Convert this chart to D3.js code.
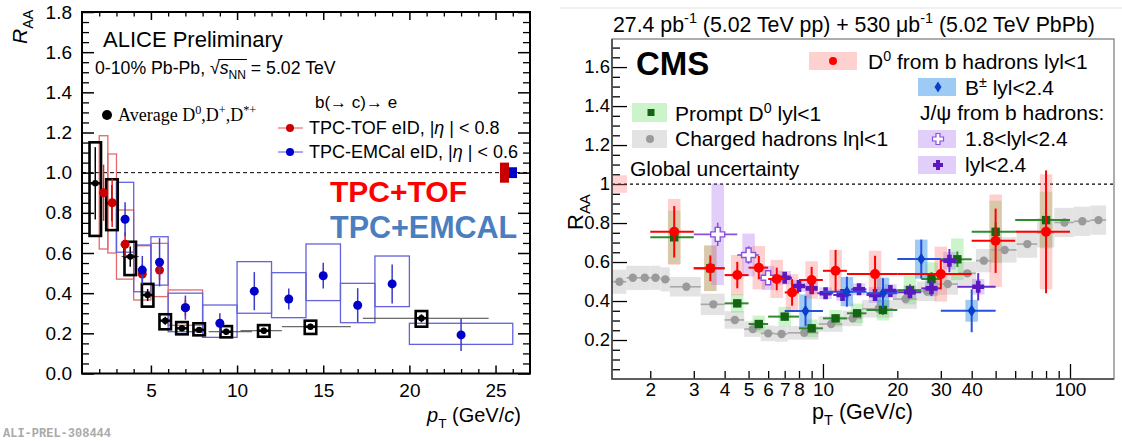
<!DOCTYPE html>
<html>
<head>
<meta charset="utf-8">
<script src="https://cdn.jsdelivr.net/npm/d3@7"></script>
<style>
body { margin: 0; background: #fff; }
svg { display: block; }
text { white-space: pre; }
</style>
</head>
<body>
<div id="display"></div>
<script>
// ---------- ALICE panel (left) ----------
const aliceXTicks = [5, 10, 15, 20, 25];
const aliceYTicks = [0, 0.2, 0.4, 0.6, 0.8, 1.0, 1.2, 1.4, 1.6, 1.8];

// average D0, D+, D*+
const avgPt = [1.77, 2.74, 3.8, 4.81, 5.83, 6.8, 7.8, 9.37, 11.55, 14.26, 20.7];
const avgVal = [0.947, 0.848, 0.582, 0.391, 0.263, 0.225, 0.217, 0.208, 0.213, 0.233, 0.275];
const avgStat = [0.18, 0.09, 0.05, 0.03, 0.02, 0.015, 0.015, 0.015, 0.015, 0.015, 0.02];
const avgSysHi = [1.151, 0.967, 0.656, 0.446, 0.295, 0.256, 0.25, 0.236, 0.241, 0.263, 0.311];
const avgSysLo = [0.685, 0.714, 0.49, 0.333, 0.22, 0.195, 0.19, 0.18, 0.183, 0.197, 0.233];
const avgXlo = [1.45, 2.4, 3.3, 4.4, 5.45, 6.45, 7.45, 8.35, 10.2, 12.6, 17.3];
const avgXhi = [2.1, 3.1, 4.3, 5.2, 6.2, 7.15, 8.15, 10.86, 12.6, 16.6, 24.6];

// b(->c)->e, TPC-TOF
const tofPt = [2.25, 2.75, 3.5, 4.5, 5.5, 7];
const tofLo = [2, 2.5, 3, 4, 5, 6];
const tofHi = [2.5, 3, 4, 5, 6, 8];
const tofVal = [0.90, 0.85, 0.643, 0.495, 0.515, 0.328];
const tofStat = [0.14, 0.12, 0.06, 0.05, 0.05, 0.04];
const tofSysHi = [1.184, 1.093, 0.814, 0.636, 0.648, 0.416];
const tofSysLo = [0.62, 0.60, 0.47, 0.366, 0.383, 0.24];

// b(->c)->e, TPC-EMCal
const emcPt = [3.5, 4.5, 5.5, 7, 9, 11, 13, 15, 17, 19, 23];
const emcLo = [3, 4, 5, 6, 8, 10, 12, 14, 16, 18, 20];
const emcHi = [4, 5, 6, 8, 10, 12, 14, 16, 18, 20, 26];
const emcVal = [0.768, 0.515, 0.554, 0.328, 0.25, 0.41, 0.371, 0.487, 0.34, 0.446, 0.192];
const emcStat = [0.085, 0.07, 0.12, 0.06, 0.05, 0.095, 0.052, 0.064, 0.085, 0.097, 0.08];
const emcSysHi = [0.952, 0.64, 0.681, 0.40, 0.341, 0.557, 0.502, 0.645, 0.449, 0.585, 0.25];
const emcSysLo = [0.604, 0.407, 0.44, 0.208, 0.18, 0.30, 0.278, 0.363, 0.253, 0.333, 0.145];

const aliceGlob = [0.05, 0.027]; // TOF, EMCal normalisation

// ---------- CMS panel (right) ----------
const cmsXTicks = [2, 3, 4, 5, 6, 7, 8, 10, 20, 30, 40, 100];
const cmsXMinor = [2, 3, 4, 5, 6, 7, 8, 9, 20, 30, 40, 50, 60, 70, 80, 90];
const cmsXMajor = [10, 100];
const cmsYTicks = [0.2, 0.4, 0.6, 0.8, 1.0, 1.2, 1.4, 1.6];

// charged hadrons
const chPt = [1.5, 1.7, 1.9, 2.1, 2.3, 2.8, 3.6, 4.4, 5.2, 6.0, 6.8, 8.4, 10.8, 13.2, 16.8, 21.6, 26.4, 32, 38.4, 44.8, 54.4, 67.2, 80, 95, 112.2, 130.4];
const chLo = [1.4, 1.6, 1.8, 2.0, 2.2, 2.4, 3.2, 4.0, 4.8, 5.6, 6.4, 7.2, 9.6, 12, 14.4, 19.2, 24, 28.8, 35.2, 41.6, 48, 60.8, 73.6, 86.4, 103.6, 120.8];
const chHi = [1.6, 1.8, 2.0, 2.2, 2.4, 3.2, 4.0, 4.8, 5.6, 6.4, 7.2, 9.6, 12, 14.4, 19.2, 24, 28.8, 35.2, 41.6, 48, 60.8, 73.6, 86.4, 103.6, 120.8, 140];
const chVal = [0.499, 0.519, 0.519, 0.519, 0.511, 0.473, 0.383, 0.303, 0.256, 0.234, 0.231, 0.237, 0.282, 0.311, 0.36, 0.41, 0.45, 0.487, 0.542, 0.607, 0.662, 0.692, 0.75, 0.803, 0.809, 0.815];
const chSys = [0.062, 0.062, 0.062, 0.062, 0.062, 0.05, 0.055, 0.045, 0.04, 0.04, 0.04, 0.035, 0.04, 0.04, 0.045, 0.05, 0.05, 0.055, 0.06, 0.06, 0.065, 0.07, 0.075, 0.075, 0.075, 0.075];

// prompt D0
const pdPt = [2.5, 3.5, 4.5, 5.5, 7, 9, 11.25, 13.75, 17.5, 22.5, 27.5, 35, 50, 80];
const pdLo = [2, 3, 4, 5, 6, 8, 10, 12.5, 15, 20, 25, 30, 40, 60];
const pdHi = [3, 4, 5, 6, 8, 10, 12.5, 15, 20, 25, 30, 40, 60, 100];
const pdVal = [0.727, 0.568, 0.388, 0.282, 0.32, 0.26, 0.311, 0.337, 0.354, 0.456, 0.513, 0.614, 0.755, 0.815];
const pdStat = [0.02, 0.025, 0.02, 0.02, 0.02, 0.02, 0.02, 0.02, 0.025, 0.03, 0.035, 0.04, 0.05, 0.06];
const pdSys = [0.137, 0.117, 0.047, 0.043, 0.05, 0.045, 0.043, 0.05, 0.054, 0.073, 0.085, 0.107, 0.16, 0.145];

// D0 from b hadrons
const bdPt = [2.5, 3.5, 4.5, 5.5, 6.5, 7.5, 9, 11.25, 16.25, 30, 50, 80];
const bdLo = [2, 3, 4, 5, 6, 7, 8, 10, 12.5, 20, 40, 60];
const bdHi = [3, 4, 5, 6, 7, 8, 10, 12.5, 20, 40, 60, 100];
const bdVal = [0.755, 0.568, 0.533, 0.571, 0.513, 0.444, 0.508, 0.555, 0.538, 0.538, 0.709, 0.755];
const bdStat = [0.132, 0.066, 0.068, 0.06, 0.058, 0.068, 0.067, 0.107, 0.094, 0.078, 0.165, 0.315];
const bdSys = [0.169, 0.117, 0.103, 0.111, 0.098, 0.094, 0.096, 0.108, 0.12, 0.141, 0.237, 0.295];

// B+-
const bpPt = [8.5, 12.5, 17.5, 25, 40];
const bpLo = [7, 10, 15, 20, 30];
const bpHi = [10, 15, 20, 30, 50];
const bpVal = [0.349, 0.448, 0.44, 0.615, 0.35];
const bpStat = [0.077, 0.077, 0.077, 0.1, 0.11];
const bpSys = [0.085, 0.075, 0.08, 0.1, 0.056];

// nonprompt J/psi 1.8<|y|<2.4
const jfPt = [3.75, 5, 6];
const jfLo = [3, 4.5, 5.5];
const jfHi = [4.5, 5.5, 6.5];
const jfVal = [0.742, 0.636, 0.519];
const jfStat = [0.06, 0.045, 0.03];
const jfSys = [0.26, 0.11, 0.062];

// nonprompt J/psi |y|<2.4
const jaPt = [7, 8, 9, 10.25, 12, 14, 16.25, 18.75, 22.5, 27.5, 32.5, 42.5];
const jaLo = [6.5, 7.5, 8.5, 9.5, 11, 13, 15, 17.5, 20, 25, 30, 35];
const jaHi = [7.5, 8.5, 9.5, 11, 13, 15, 17.5, 20, 25, 30, 35, 50];
const jaVal = [0.519, 0.477, 0.465, 0.44, 0.431, 0.46, 0.431, 0.451, 0.445, 0.465, 0.607, 0.473];
const jaStat = [0.02, 0.02, 0.02, 0.02, 0.02, 0.025, 0.03, 0.03, 0.03, 0.04, 0.06, 0.07];
const jaSys = [0.035, 0.03, 0.03, 0.03, 0.03, 0.03, 0.04, 0.035, 0.035, 0.04, 0.045, 0.04];

const cmsGlob = 0.045;

// ---------------------------------------------------------------
const SANS = '"Liberation Sans", Arial, sans-serif';
const svg = d3.select('#display')
    .append('svg')
    .attr('width', 1122)
    .attr('height', 441)
    .attr('font-family', SANS);

// text with sub/superscripts: parts are strings or [text, 'sup'|'sub'|'', 'i']
function rich(g, x, y, fs, parts) {
    const t = g.append('text').attr('x', x).attr('y', y).attr('font-size', fs);
    let off = 0;
    parts.forEach(p => {
        const [str, mode, style] = typeof p === 'string' ? [p, '', ''] : p;
        const target = mode === 'sup' ? -0.4 * fs : mode === 'sub' ? 0.3 * fs : 0;
        const ts = t.append('tspan').attr('dy', target - off).text(str);
        if (mode === 'sup' || mode === 'sub') ts.attr('font-size', fs * 0.68);
        if (style === 'i') ts.attr('font-style', 'italic');
        off = target;
    });
    return t;
}

function styleAxis(g, fs, width) {
    g.select('.domain').remove();
    g.selectAll('line').attr('stroke', '#000').attr('stroke-width', width);
    g.attr('font-size', fs).attr('font-family', SANS);
    g.selectAll('text').attr('fill', '#000');
}

// ======================= ALICE =======================
const xL = d3.scaleLinear().domain([1, 27]).range([82, 530]);
const yL = d3.scaleLinear().domain([0, 1.8]).range([373.5, 12]);
const gL = svg.append('g');

const xMinorL = d3.range(2, 27).filter(d => d % 5 !== 0);
const yMinorL = d3.range(0, 1.8001, 0.05).filter(d => Math.abs(d * 5 - Math.round(d * 5)) > 1e-6);

gL.append('g').attr('transform', `translate(0,${yL(0)})`)
    .call(d3.axisBottom(xL).tickValues(aliceXTicks).tickSize(-8).tickPadding(10).tickFormat(d3.format('d')))
    .call(g => styleAxis(g, 19, 1.5));
gL.append('g').attr('transform', `translate(0,${yL(0)})`)
    .call(d3.axisBottom(xL).tickValues(xMinorL).tickSize(-4.5).tickFormat(''))
    .call(g => styleAxis(g, 19, 1.3));
gL.append('g').attr('transform', `translate(0,${yL(1.8)})`)
    .call(d3.axisTop(xL).tickValues(aliceXTicks).tickSize(-8).tickFormat(''))
    .call(g => styleAxis(g, 19, 1.5));
gL.append('g').attr('transform', `translate(0,${yL(1.8)})`)
    .call(d3.axisTop(xL).tickValues(xMinorL).tickSize(-4.5).tickFormat(''))
    .call(g => styleAxis(g, 19, 1.3));
gL.append('g').attr('transform', `translate(${xL(1)},0)`)
    .call(d3.axisLeft(yL).tickValues(aliceYTicks).tickSize(-12).tickPadding(10).tickFormat(d3.format('.1f')))
    .call(g => styleAxis(g, 19, 1.5));
gL.append('g').attr('transform', `translate(${xL(1)},0)`)
    .call(d3.axisLeft(yL).tickValues(yMinorL).tickSize(-7).tickFormat(''))
    .call(g => styleAxis(g, 19, 1.3));
gL.append('g').attr('transform', `translate(${xL(27)},0)`)
    .call(d3.axisRight(yL).tickValues(aliceYTicks).tickSize(-12).tickFormat(''))
    .call(g => styleAxis(g, 19, 1.5));
gL.append('g').attr('transform', `translate(${xL(27)},0)`)
    .call(d3.axisRight(yL).tickValues(yMinorL).tickSize(-7).tickFormat(''))
    .call(g => styleAxis(g, 19, 1.3));

// unity line
gL.append('line')
    .attr('x1', xL(1)).attr('x2', xL(27)).attr('y1', yL(1)).attr('y2', yL(1))
    .attr('stroke', '#000').attr('stroke-width', 1).attr('stroke-dasharray', '4,3');

// systematic boxes
function aliceBoxes(lo, hi, sHi, sLo, color, w) {
    gL.append('g').selectAll('rect').data(lo).join('rect')
        .attr('x', (d, i) => xL(lo[i]))
        .attr('y', (d, i) => yL(sHi[i]))
        .attr('width', (d, i) => xL(hi[i]) - xL(lo[i]))
        .attr('height', (d, i) => yL(sLo[i]) - yL(sHi[i]))
        .attr('fill', 'none').attr('stroke', color).attr('stroke-width', w);
}
aliceBoxes(tofLo, tofHi, tofSysHi, tofSysLo, '#e46a6a', 1.3);
aliceBoxes(emcLo, emcHi, emcSysHi, emcSysLo, '#6363dc', 1.3);

// average D boxes
const avgBoxW = 11.5;
const gAvg = gL.append('g');
gAvg.selectAll('line.h').data(avgPt).join('line')
    .attr('x1', (d, i) => xL(avgXlo[i])).attr('x2', (d, i) => xL(avgXhi[i]))
    .attr('y1', (d, i) => yL(avgVal[i])).attr('y2', (d, i) => yL(avgVal[i]))
    .attr('stroke', '#444').attr('stroke-width', 1);
gAvg.selectAll('rect').data(avgPt).join('rect')
    .attr('x', d => xL(d) - avgBoxW / 2)
    .attr('y', (d, i) => yL(avgSysHi[i]))
    .attr('width', avgBoxW)
    .attr('height', (d, i) => yL(avgSysLo[i]) - yL(avgSysHi[i]))
    .attr('fill', 'none').attr('stroke', '#000').attr('stroke-width', 2.6);

function aliceSeries(pt, val, stat, color, lineColor, r) {
    const g = gL.append('g');
    g.selectAll('line').data(pt).join('line')
        .attr('x1', d => xL(d)).attr('x2', d => xL(d))
        .attr('y1', (d, i) => yL(val[i] + stat[i])).attr('y2', (d, i) => yL(val[i] - stat[i]))
        .attr('stroke', lineColor).attr('stroke-width', 1.5);
    g.selectAll('circle').data(pt).join('circle')
        .attr('cx', d => xL(d)).attr('cy', (d, i) => yL(val[i])).attr('r', r)
        .attr('fill', color);
}
aliceSeries(tofPt, tofVal, tofStat, '#cc0000', '#dd2222', 4.5);
aliceSeries(emcPt, emcVal, emcStat, '#0000cc', '#3b3bcc', 4.5);

// average D markers
gAvg.selectAll('line.v').data(avgPt).join('line')
    .attr('x1', d => xL(d)).attr('x2', d => xL(d))
    .attr('y1', (d, i) => yL(avgVal[i] + avgStat[i])).attr('y2', (d, i) => yL(avgVal[i] - avgStat[i]))
    .attr('stroke', '#000').attr('stroke-width', 1.5);
gAvg.selectAll('line.m').data(avgPt).join('line')
    .attr('x1', d => xL(d) - avgBoxW / 2).attr('x2', d => xL(d) + avgBoxW / 2)
    .attr('y1', (d, i) => yL(avgVal[i])).attr('y2', (d, i) => yL(avgVal[i]))
    .attr('stroke', '#000').attr('stroke-width', 2.5);
gAvg.selectAll('circle').data(avgPt).join('circle')
    .attr('cx', d => xL(d)).attr('cy', (d, i) => yL(avgVal[i])).attr('r', 3.2)
    .attr('fill', '#000');

// global normalisation boxes
gL.append('rect').attr('x', xL(27) - 30).attr('width', 9)
    .attr('y', yL(1 + aliceGlob[0])).attr('height', yL(1 - aliceGlob[0]) - yL(1 + aliceGlob[0]))
    .attr('fill', '#c80000');
gL.append('rect').attr('x', xL(27) - 21).attr('width', 8)
    .attr('y', yL(1 + aliceGlob[1])).attr('height', yL(1 - aliceGlob[1]) - yL(1 + aliceGlob[1]))
    .attr('fill', '#0000cc');

// frame
gL.append('rect').attr('x', xL(1)).attr('y', yL(1.8))
    .attr('width', xL(27) - xL(1)).attr('height', yL(0) - yL(1.8))
    .attr('fill', 'none').attr('stroke', '#000').attr('stroke-width', 2);

// texts
rich(gL, 0, 0, 21, [['R', '', 'i'], ['AA', 'sub']]).attr('transform', 'translate(27,44) rotate(-90)');
rich(gL, 427, 422, 20, [['p', '', 'i'], ['T', 'sub'], ' (GeV/', ['c', '', 'i'], ')']);
gL.append('text').attr('x', 103).attr('y', 47).attr('font-size', 22).text('ALICE Preliminary');
const energy = rich(gL, 95, 74, 17.7, ['0-10% Pb-Pb, √', ['s', '', 'i'], ['NN', 'sub'], ' = 5.02 TeV']);
{
    const node = energy.node();
    const e0 = node.getExtentOfChar(13), e1 = node.getExtentOfChar(16);
    gL.append('line').attr('x1', e0.x + e0.width * 0.85).attr('x2', e1.x + e1.width + 1)
        .attr('y1', e0.y + 1.5).attr('y2', e0.y + 1.5).attr('stroke', '#000').attr('stroke-width', 1);
}
gL.append('circle').attr('cx', 107).attr('cy', 115).attr('r', 5).attr('fill', '#000');
rich(gL, 118, 121, 18, ['Average D', ['0', 'sup'], ',D', ['+', 'sup'], ',D', ['*+', 'sup']])
    .attr('font-family', '"Liberation Serif", "DejaVu Serif", serif');
gL.append('text').attr('x', 315).attr('y', 108).attr('font-size', 17).text('b(→ c)→ e');
gL.append('line').attr('x1', 278).attr('x2', 303).attr('y1', 128).attr('y2', 128).attr('stroke', '#e05050');
gL.append('circle').attr('cx', 290).attr('cy', 128).attr('r', 4).attr('fill', '#cc0000');
rich(gL, 309, 134, 18, ['TPC-TOF eID, |', ['η', '', 'i'], ' | < 0.8']);
gL.append('line').attr('x1', 278).attr('x2', 303).attr('y1', 152).attr('y2', 152).attr('stroke', '#5555dd');
gL.append('circle').attr('cx', 290).attr('cy', 152).attr('r', 4).attr('fill', '#0000cc');
rich(gL, 309, 158, 18, ['TPC-EMCal eID, |', ['η', '', 'i'], ' | < 0.6']);
gL.append('text').attr('x', 330).attr('y', 202).attr('font-size', 30).attr('font-weight', 'bold')
    .attr('fill', '#ff0000').text('TPC+TOF');
gL.append('text').attr('x', 330).attr('y', 238).attr('font-size', 30.5).attr('font-weight', 'bold')
    .attr('fill', '#4a7ebf').text('TPC+EMCAL');
gL.append('text').attr('x', 3).attr('y', 437).attr('font-size', 12).attr('font-weight', 'bold')
    .attr('font-family', '"Liberation Mono", "DejaVu Sans Mono", monospace')
    .attr('fill', '#aaa').text('ALI-PREL-308444');

// ======================= CMS =======================
const xR = d3.scaleLog().domain([1.4, 150.7]).range([612, 1114]);
const yR = d3.scaleLinear().domain([0, 1.744]).range([379, 39]);
const gR = svg.append('g');

svg.append('line').attr('x1', 560).attr('x2', 1122).attr('y1', 8).attr('y2', 8)
    .attr('stroke', '#e2e2e2').attr('stroke-width', 1);

const yMinorR = d3.range(0.05, 1.744, 0.05).filter(d => Math.abs(d * 5 - Math.round(d * 5)) > 1e-6);

gR.append('g').attr('transform', `translate(0,${yR(0)})`)
    .call(d3.axisBottom(xR).tickValues(cmsXTicks).tickSize(0).tickPadding(3.5).tickFormat(d3.format('d')))
    .call(g => styleAxis(g, 19, 1.3));
gR.append('g').attr('transform', `translate(0,${yR(0)})`)
    .call(d3.axisBottom(xR).tickValues(cmsXMinor).tickSize(-8).tickFormat(''))
    .call(g => styleAxis(g, 19, 1.3));
gR.append('g').attr('transform', `translate(0,${yR(0)})`)
    .call(d3.axisBottom(xR).tickValues(cmsXMajor).tickSize(-15).tickFormat(''))
    .call(g => styleAxis(g, 19, 1.3));
gR.append('g').attr('transform', `translate(${xR(1.4)},0)`)
    .call(d3.axisLeft(yR).tickValues(cmsYTicks).tickSize(-15).tickPadding(2)
        .tickFormat(d => Math.abs(d - 1) < 1e-9 ? '1' : d.toFixed(1)))
    .call(g => styleAxis(g, 18.5, 1.3));
gR.append('g').attr('transform', `translate(${xR(1.4)},0)`)
    .call(d3.axisLeft(yR).tickValues(yMinorR).tickSize(-8).tickFormat(''))
    .call(g => styleAxis(g, 18.5, 1.3));

gR.append('line')
    .attr('x1', xR(1.4)).attr('x2', xR(150.7)).attr('y1', yR(1)).attr('y2', yR(1))
    .attr('stroke', '#000').attr('stroke-width', 1.2).attr('stroke-dasharray', '3,3');

// global uncertainty
gR.append('rect').attr('x', xR(1.4) + 1).attr('width', 14)
    .attr('y', yR(1 + cmsGlob)).attr('height', yR(1 - cmsGlob) - yR(1 + cmsGlob))
    .attr('fill', 'rgba(255,110,110,0.3)');

// charged hadron bands
gR.append('g').selectAll('rect').data(chPt).join('rect')
    .attr('x', (d, i) => xR(chLo[i])).attr('width', (d, i) => xR(chHi[i]) - xR(chLo[i]))
    .attr('y', (d, i) => yR(chVal[i] + chSys[i]))
    .attr('height', (d, i) => yR(chVal[i] - chSys[i]) - yR(chVal[i] + chSys[i]))
    .attr('fill', '#e3e3e3');

const sysW = 12.5;
function cmsBoxes(pt, val, sys, fill) {
    gR.append('g').selectAll('rect').data(pt).join('rect')
        .attr('x', d => xR(d) - sysW / 2).attr('width', sysW)
        .attr('y', (d, i) => yR(val[i] + sys[i]))
        .attr('height', (d, i) => yR(val[i] - sys[i]) - yR(val[i] + sys[i]))
        .attr('fill', fill);
}
const cPD = 'rgba(70,215,70,0.28)', cBD = 'rgba(255,100,100,0.3)', cBP = 'rgba(40,140,230,0.45)', cJ = 'rgba(165,110,240,0.33)';
cmsBoxes(pdPt, pdVal, pdSys, cPD);
cmsBoxes(jfPt, jfVal, jfSys, cJ);
cmsBoxes(jaPt, jaVal, jaSys, cJ);
cmsBoxes(bpPt, bpVal, bpSys, cBP);
cmsBoxes(bdPt, bdVal, bdSys, cBD);

function cmsBars(pt, lo, hi, val, stat, color, w) {
    const g = gR.append('g').attr('stroke', color).attr('stroke-width', w);
    g.selectAll('line.h').data(pt).join('line')
        .attr('x1', (d, i) => xR(lo[i])).attr('x2', (d, i) => xR(hi[i]))
        .attr('y1', (d, i) => yR(val[i])).attr('y2', (d, i) => yR(val[i]));
    if (stat) g.selectAll('line.v').data(pt).join('line')
        .attr('x1', d => xR(d)).attr('x2', d => xR(d))
        .attr('y1', (d, i) => yR(val[i] + stat[i])).attr('y2', (d, i) => yR(val[i] - stat[i]));
    return gR.append('g');
}
function crossPath(cx, cy, a, t) {
    return `M${cx - t},${cy - a}L${cx + t},${cy - a}L${cx + t},${cy - t}L${cx + a},${cy - t}L${cx + a},${cy + t}` +
        `L${cx + t},${cy + t}L${cx + t},${cy + a}L${cx - t},${cy + a}L${cx - t},${cy + t}L${cx - a},${cy + t}` +
        `L${cx - a},${cy - t}L${cx - t},${cy - t}Z`;
}
function diamondPath(cx, cy, w, h) {
    return `M${cx},${cy - h}L${cx + w},${cy}L${cx},${cy + h}L${cx - w},${cy}Z`;
}

// charged hadrons
cmsBars(chPt, chLo, chHi, chVal, null, '#a8a8a8', 1.6)
    .selectAll('circle').data(chPt).join('circle')
    .attr('cx', d => xR(d)).attr('cy', (d, i) => yR(chVal[i])).attr('r', 4.2).attr('fill', '#9a9a9a');

// prompt D0
cmsBars(pdPt, pdLo, pdHi, pdVal, pdStat, '#2e8b2e', 2)
    .selectAll('rect').data(pdPt).join('rect')
    .attr('x', d => xR(d) - 4.2).attr('y', (d, i) => yR(pdVal[i]) - 4.2)
    .attr('width', 8.4).attr('height', 8.4).attr('fill', '#146414');

// J/psi forward (open crosses)
cmsBars(jfPt, jfLo, jfHi, jfVal, jfStat, '#8a4fe0', 1.6)
    .selectAll('path').data(jfPt).join('path')
    .attr('d', (d, i) => crossPath(xR(d), yR(jfVal[i]), 7, 2.5))
    .attr('fill', '#fff').attr('stroke', '#8a4fe0').attr('stroke-width', 1.4);

// J/psi |y|<2.4 (filled crosses)
cmsBars(jaPt, jaLo, jaHi, jaVal, jaStat, '#6a2ad0', 2)
    .selectAll('path').data(jaPt).join('path')
    .attr('d', (d, i) => crossPath(xR(d), yR(jaVal[i]), 6, 2.3))
    .attr('fill', '#5a18c0');

// B+-
cmsBars(bpPt, bpLo, bpHi, bpVal, bpStat, '#2550dd', 2)
    .selectAll('path').data(bpPt).join('path')
    .attr('d', (d, i) => diamondPath(xR(d), yR(bpVal[i]), 4, 6))
    .attr('fill', '#0a3fcc');

// D0 from b
cmsBars(bdPt, bdLo, bdHi, bdVal, bdStat, '#ff0000', 2)
    .selectAll('circle').data(bdPt).join('circle')
    .attr('cx', d => xR(d)).attr('cy', (d, i) => yR(bdVal[i])).attr('r', 5).attr('fill', '#ff0000');

// frame
gR.append('rect').attr('x', xR(1.4)).attr('y', yR(1.744))
    .attr('width', xR(150.7) - xR(1.4)).attr('height', yR(0) - yR(1.744))
    .attr('fill', 'none').attr('stroke', '#777').attr('stroke-width', 1.2);
gR.append('path').attr('d', `M${xR(1.4)},${yR(1.744)}V${yR(0)}H${xR(150.7)}`)
    .attr('fill', 'none').attr('stroke', '#444').attr('stroke-width', 1.6);

// texts
rich(gR, 613, 32, 21.3, ['27.4 pb', ['-1', 'sup'], ' (5.02 TeV pp) + 530 μb', ['-1', 'sup'], ' (5.02 TeV PbPb)']);
gR.append('text').attr('x', 636).attr('y', 75).attr('font-size', 33).attr('font-weight', 'bold').text('CMS');
rich(gR, 0, 0, 22, ['R', ['AA', 'sub']]).attr('transform', 'translate(583,230) rotate(-90)');
rich(gR, 812, 419, 21.5, ['p', ['T', 'sub'], ' (GeV/c)']);

// legend
const LFS = 21;
const leg = gR.append('g');
leg.append('rect').attr('x', 809).attr('y', 52).attr('width', 48).attr('height', 18).attr('fill', cBD);
leg.append('circle').attr('cx', 833).attr('cy', 61).attr('r', 4).attr('fill', '#ff0000');
rich(leg, 868, 69, LFS, ['D', ['0', 'sup'], ' from b hadrons lyl<1']);

leg.append('rect').attr('x', 918).attr('y', 78).attr('width', 38).attr('height', 18).attr('fill', cBP);
leg.append('path').attr('d', diamondPath(938, 87, 3.5, 5.5)).attr('fill', '#0a3fcc');
rich(leg, 965, 95, LFS, ['B', ['±', 'sup'], ' lyl<2.4']);

leg.append('text').attr('x', 920).attr('y', 120).attr('font-size', LFS).text('J/ψ from b hadrons:');

leg.append('rect').attr('x', 918).attr('y', 130).attr('width', 38).attr('height', 18).attr('fill', cJ);
leg.append('path').attr('d', crossPath(938, 139, 5.5, 2)).attr('fill', '#fff').attr('stroke', '#8a4fe0').attr('stroke-width', 1.2);
leg.append('text').attr('x', 965).attr('y', 146).attr('font-size', LFS).text('1.8<lyl<2.4');

leg.append('rect').attr('x', 918).attr('y', 156).attr('width', 38).attr('height', 18).attr('fill', cJ);
leg.append('path').attr('d', crossPath(938, 165, 5, 2)).attr('fill', '#5a18c0');
leg.append('text').attr('x', 965).attr('y', 172).attr('font-size', LFS).text('lyl<2.4');

leg.append('rect').attr('x', 632).attr('y', 103).attr('width', 35).attr('height', 19).attr('fill', cPD);
leg.append('rect').attr('x', 647.5).attr('y', 109).attr('width', 7).attr('height', 7).attr('fill', '#146414');
rich(leg, 675, 121, LFS, ['Prompt D', ['0', 'sup'], ' lyl<1']);

leg.append('rect').attr('x', 632).attr('y', 130).attr('width', 35).attr('height', 18).attr('fill', '#e3e3e3');
leg.append('circle').attr('cx', 650).attr('cy', 139).attr('r', 4).attr('fill', '#9a9a9a');
leg.append('text').attr('x', 675).attr('y', 146).attr('font-size', LFS).text('Charged hadrons lηl<1');

leg.append('text').attr('x', 630).attr('y', 176).attr('font-size', LFS).text('Global uncertainty');
</script>
</body>
</html>
